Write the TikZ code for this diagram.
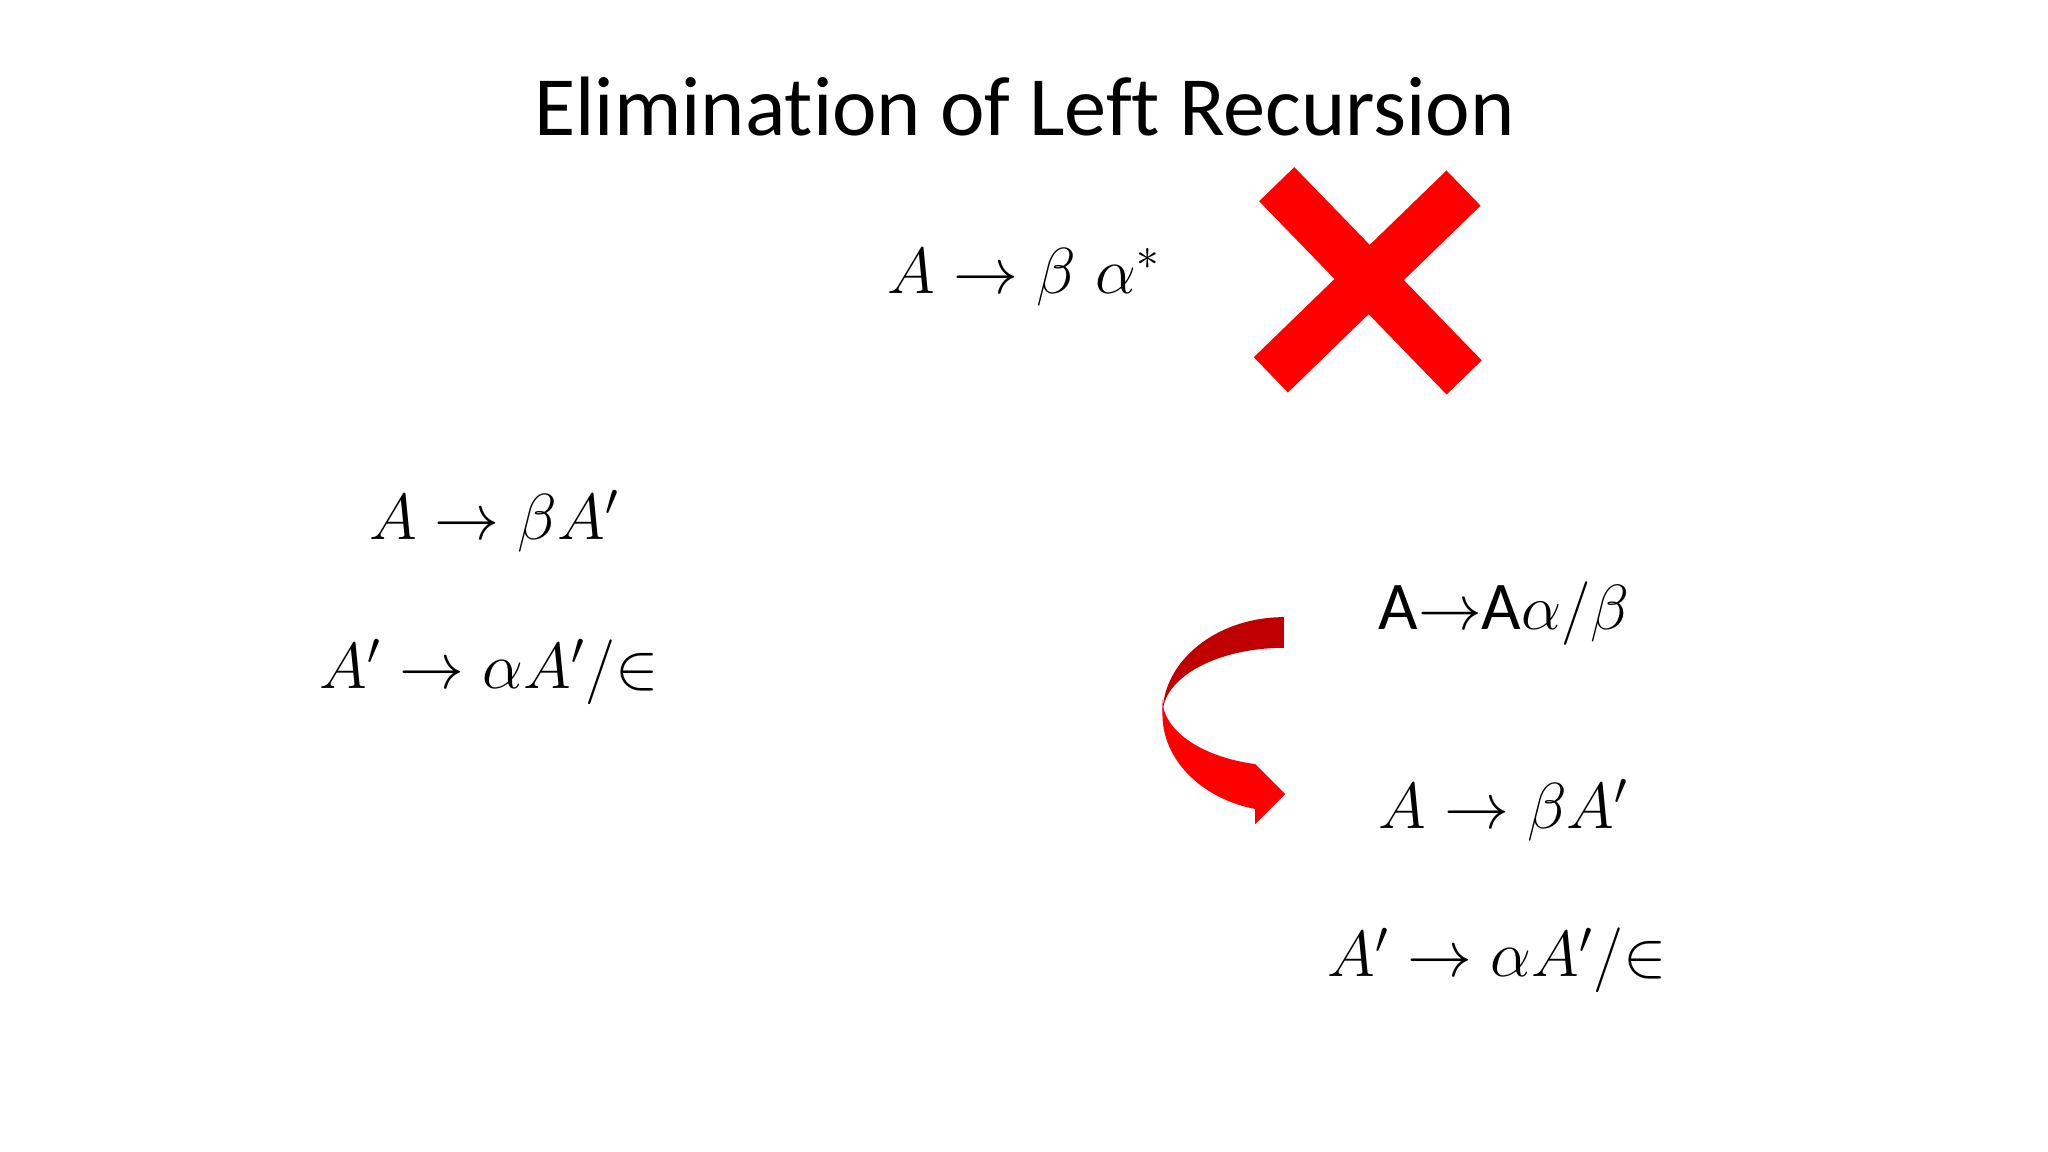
\documentclass[tikz,border=0pt]{standalone}
\usepackage{graphicx}
\usepackage{fontspec}
\newfontfamily\calibri[Ligatures=NoCommon]{Carlito}
\usetikzlibrary{calc}
\definecolor{xred}{HTML}{FF0000}
\definecolor{backred}{HTML}{C00000}
\newcommand\rulemath[1]{\scalebox{1.07}{$#1$}}
\tikzset{
  rule/.style={anchor=base west,inner sep=0pt,font=\fontsize{17.28}{21}\selectfont}
}
\begin{document}
\begin{tikzpicture}[x=0.01306cm,y=-0.01306cm]
      \useasboundingbox[fill=white] (0,0) rectangle (1568,882);

      \node[anchor=base,inner sep=0pt,font=\calibri\fontsize{24}{30}\selectfont] (title) at (784.5,104) {Elimination of Left Recursion};

      \begin{scope}[every node/.style={rule}]
        \node (star) at (679,224.5) {\rulemath{A \rightarrow \beta\ \alpha^{*}}};
        \node (l1)   at (282,413)   {\rulemath{A \rightarrow \beta A'}};
        \node (l2)   at (244,527)   {\rulemath{A' \rightarrow \alpha A'/{\in}}};
        \node (r0)   at (1055,482)  {\scalebox{1.05}{\calibri\fontsize{18.5}{23}\selectfont A$\rightarrow$A$\alpha/\beta$}};
        \node (r1)   at (1055,634)  {\rulemath{A \rightarrow \beta A'}};
        \node (r2)   at (1016,748)  {\rulemath{A' \rightarrow \alpha A'/{\in}}};
      \end{scope}

      % red cross
      \begin{scope}[line width=0.49cm,xred]
        \draw (977.5,141) -- (1121,289);
        \draw (1120.5,144) -- (973,287);
      \end{scope}

      % curved arrow from r0 down to r1
      \coordinate (turn) at (983,547);
      \fill[backred] ($(turn)+(0,-74.5)$)
        arc[start angle=270,end angle=180,x radius=93,y radius=74.5]
        arc[start angle=180,end angle=270,x radius=93,y radius=51] -- cycle;
      \fill[xred] ($(turn)+(-93,0)$)
        arc[start angle=180,end angle=103.68,x radius=93,y radius=74.5]
        -- (961,631) -- (984,608) -- (961,585)
        arc[start angle=103.68,end angle=180,x radius=93,y radius=51] -- cycle;

    \end{tikzpicture}
\end{document}
